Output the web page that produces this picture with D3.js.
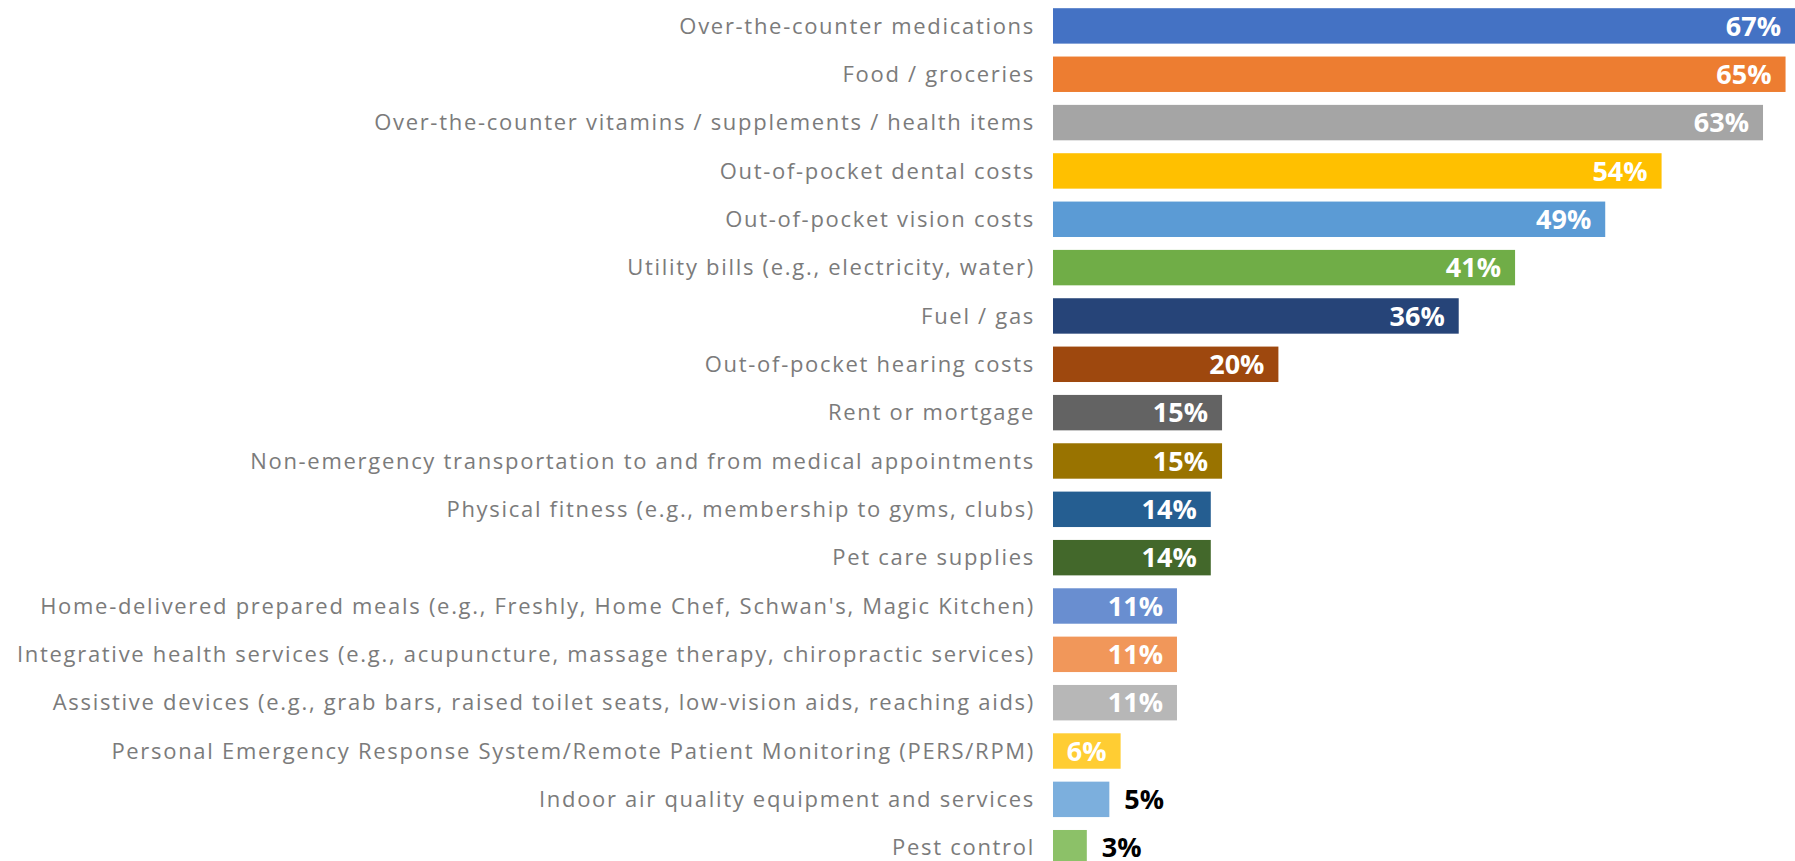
<!DOCTYPE html>
<html>
<head>
<meta charset="utf-8">
<script src="https://cdn.jsdelivr.net/npm/d3@7"></script>
<style>
  html, body { margin: 0; padding: 0; background: #ffffff; overflow: hidden; }
  svg { display: block; }
</style>
</head>
<body>
<svg id="chart" width="1795" height="861"></svg>
<script>
// Share of respondents per spending category (%)
const categories = [
  "Over-the-counter medications",
  "Food / groceries",
  "Over-the-counter vitamins / supplements / health items",
  "Out-of-pocket dental costs",
  "Out-of-pocket vision costs",
  "Utility bills (e.g., electricity, water)",
  "Fuel / gas",
  "Out-of-pocket hearing costs",
  "Rent or mortgage",
  "Non-emergency transportation to and from medical appointments",
  "Physical fitness (e.g., membership to gyms, clubs)",
  "Pet care supplies",
  "Home-delivered prepared meals (e.g., Freshly, Home Chef, Schwan's, Magic Kitchen)",
  "Integrative health services (e.g., acupuncture, massage therapy, chiropractic services)",
  "Assistive devices (e.g., grab bars, raised toilet seats, low-vision aids, reaching aids)",
  "Personal Emergency Response System/Remote Patient Monitoring (PERS/RPM)",
  "Indoor air quality equipment and services",
  "Pest control"
];
const values = [67, 65, 63, 54, 49, 41, 36, 20, 15, 15, 14, 14, 11, 11, 11, 6, 5, 3];
const colors = [
  "#4472C4", "#ED7D31", "#A5A5A5", "#FFC000", "#5B9BD5", "#70AD47",
  "#264478", "#9E480E", "#636363", "#997300", "#255E91", "#43682B",
  "#698ED0", "#F1975A", "#B7B7B7", "#FFCD33", "#7CAFDD", "#8CC168"
];

const svg = d3.select("#chart");
const W = 1795;

const x0 = 1053;
const x = d3.scaleLinear().domain([0, 100]).range([x0, x0 + 1127]);

const step = 48.34, pad = 0.267, yStart = 8.2;
const y = d3.scaleBand()
  .domain(categories)
  .range([yStart, yStart + step * (categories.length - pad)])
  .paddingInner(pad)
  .paddingOuter(0);

const data = categories.map((c, i) => ({ cat: c, value: values[i], color: colors[i] }));

// Category axis on the left, no line or ticks
const yAxis = d3.axisLeft(y).tickSize(0).tickPadding(18);
const gy = svg.append("g")
  .attr("transform", `translate(${x0},0)`)
  .call(yAxis);
gy.select(".domain").remove();
gy.selectAll("text")
  .attr("fill", "#7b7b7b")
  .style("font-family", "'Open Sans', sans-serif")
  .style("font-size", "22px")
  .style("letter-spacing", "1.7px")
  .attr("dy", "0.35em");

// Bars
svg.append("g").selectAll("rect")
  .data(data)
  .join("rect")
  .attr("x", x(0))
  .attr("y", d => y(d.cat))
  .attr("width", d => x(d.value) - x(0))
  .attr("height", y.bandwidth())
  .attr("fill", d => d.color);

// Value labels: inside the bar end, or just outside for the smallest bars
const small = 6;
svg.append("g").selectAll("text")
  .data(data)
  .join("text")
  .attr("x", d => d.value < small ? x(d.value) + 15 : Math.min(x(d.value), W) - 14)
  .attr("y", d => y(d.cat) + y.bandwidth() / 2)
  .attr("dy", "0.36em")
  .attr("text-anchor", d => d.value < small ? "start" : "end")
  .attr("fill", d => d.value < small ? "#000000" : "#ffffff")
  .style("font-family", "'Open Sans', sans-serif")
  .style("font-weight", "700")
  .style("font-size", "27px")
  .text(d => d.value + "%");
</script>
</body>
</html>
